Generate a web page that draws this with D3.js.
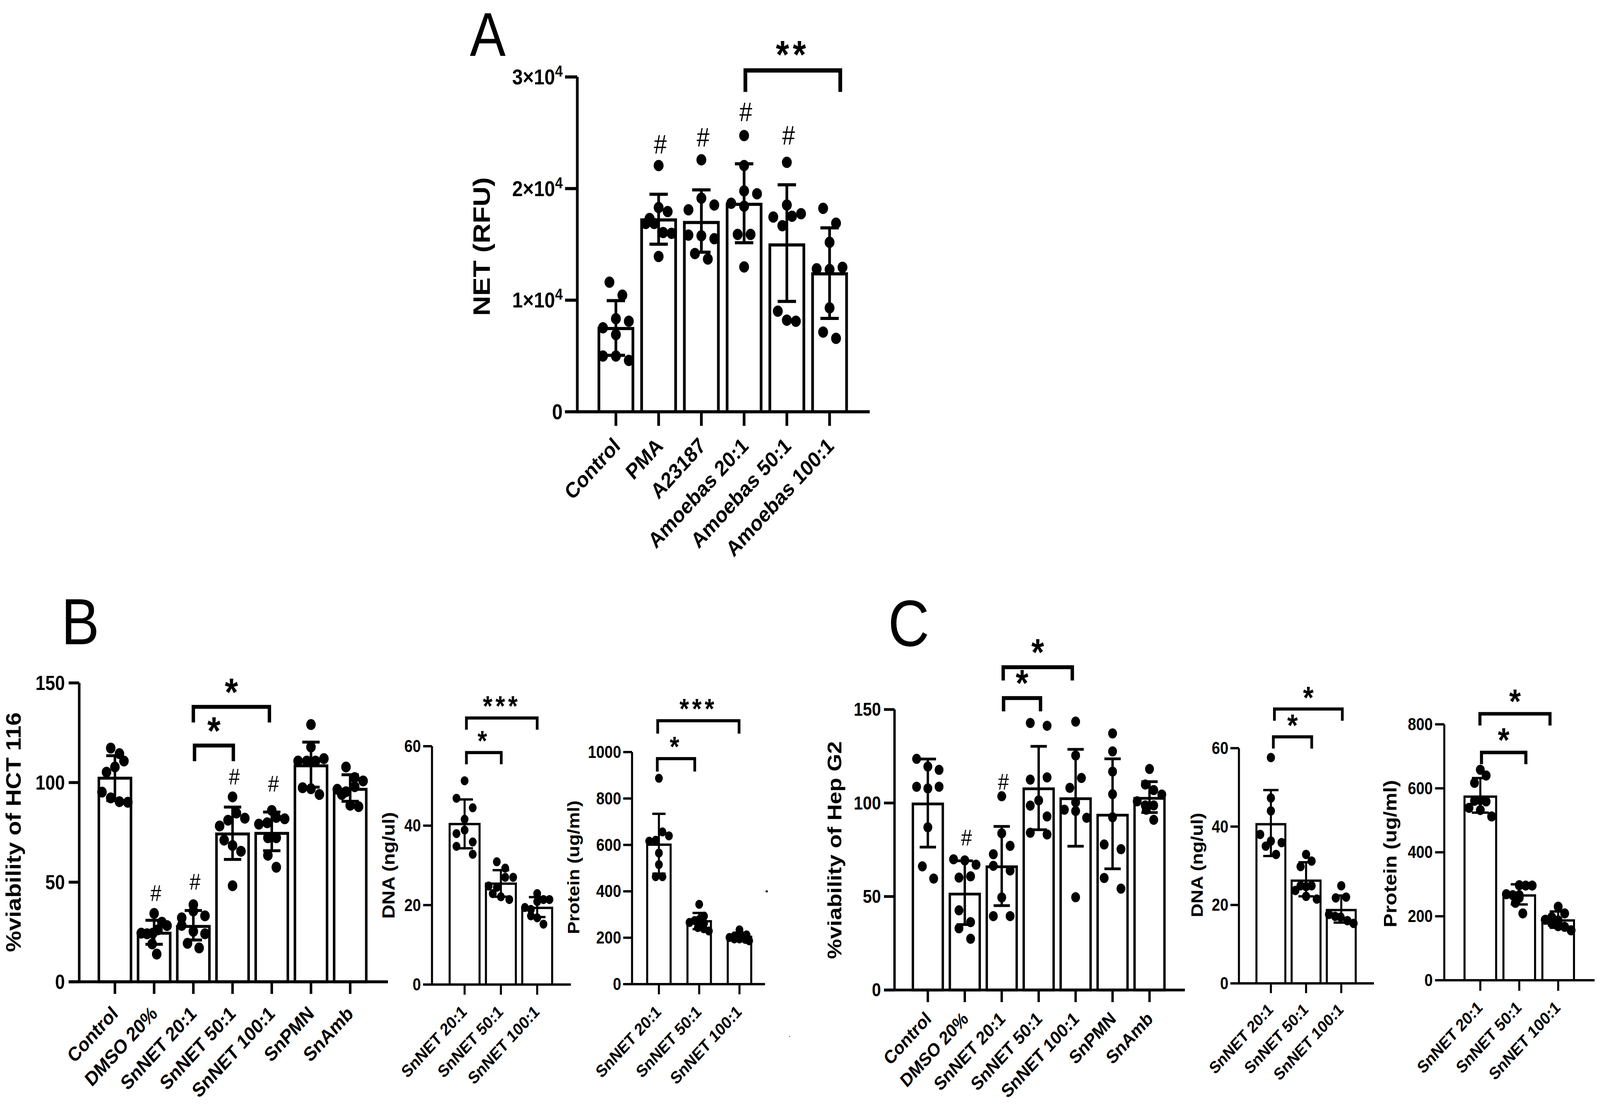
<!DOCTYPE html>
<html>
<head>
<meta charset="utf-8">
<script src="https://cdn.jsdelivr.net/npm/d3@7"></script>
<style>
html, body { margin: 0; padding: 0; background: #fff; overflow: hidden; }
svg { display: block; }
text { font-family: "Liberation Sans", Arial, sans-serif; fill: #000; }
</style>
</head>
<body>
<div id="chart"></div>
<script>
var W = 4706, H = 2836;

//Categories
var aCats = ["Control", "PMA", "A23187", "Amoebas 20:1", "Amoebas 50:1", "Amoebas 100:1"];
var viaCats = ["Control", "DMSO 20%", "SnNET 20:1", "SnNET 50:1", "SnNET 100:1", "SnPMN", "SnAmb"];
var netCats = ["SnNET 20:1", "SnNET 50:1", "SnNET 100:1"];

//Panel A, NET (RFU)
var aMeans = [7460, 17190, 16960, 18590, 14950, 12360];
var aUpper = [9960, 19490, 19880, 22220, 20340, 16480];
var aLower = [5060, 15020, 14300, 15150, 9890, 8370];
var aTicks = [0, 10000, 20000, 30000];
var aPoints = [
[11613, 10445, 8337, 8110, 7526, 6910, 4996, 4996, 4606],
[22059, 18296, 17939, 17323, 16869, 16869, 16058, 15993, 13917],
[22578, 19140, 18523, 18102, 15831, 15766, 15506, 14176, 13690],
[24752, 22059, 19788, 19529, 18685, 18426, 15896, 15896, 12976],
[22351, 18523, 17745, 17453, 17518, 16674, 9018, 8207, 8110],
[18231, 16901, 15182, 12814, 12749, 12944, 9310, 7137, 6585]
];
//swarm column of each dot, same order as the points
var aSwarm = [
[-1, 1, 0, 2, -2, 0, -2, 0, 2],
[0, 0, 1.4, -1.4, -2, -0.7, 0.7, 2, 0],
[0, 0, 2, -2, -2, 0, 2, -1, 1],
[0, 0, 0, 2, -2, 0, -1, 1, 0],
[0, 0, 2.2, -2.1, 0.8, -0.7, -1.4, 0, 1.4],
[-1, 1, 0, -2, 0, 2, 0, -1, 1]
];
var aHash = [null, 23130, 23780, 26050, 23940, null];
var aBrackets = [[3.03, 5.25, 30590, "**"]];

//Panel B, viability of HCT 116
var bMeans = [102.2, 24.4, 27.8, 74.2, 74.5, 108.4, 96.6];
var bUpper = [113.5, 30.9, 35.8, 87.7, 85.2, 120.3, 103.9];
var bLower = [91, 18.8, 21, 61.4, 65.8, 97.7, 90.6];
var bTicks = [0, 50, 100, 150];
var bPoints = [
[117.3, 114.5, 110.8, 105.2, 107.8, 95.2, 92.3, 90.4, 90.1],
[34.3, 29.9, 28.2, 24.4, 24.1, 24.4, 26.1, 19, 13.9],
[38.7, 35.5, 32.1, 33.1, 28.3, 25.3, 24.1, 19.3, 17],
[92.8, 84.7, 81.1, 82.1, 78.2, 71.1, 68.4, 65.5, 48.2],
[86, 82.5, 81.8, 79.1, 79.8, 72.3, 72.3, 63.5, 57.5],
[129.1, 117.8, 112, 110.8, 110.8, 110.8, 97.4, 96.9, 94],
[107.8, 102.5, 100.8, 96.6, 95.4, 97.9, 94, 88.6, 87.9]
];
var bSwarm = [
[-0.65, 0.7, 1.4, -1.3, 0, -2, -0.65, 0.7, 2],
[0, 1.2, 2, -2, -1.1, -0.2, 0.6, -0.3, 0.4],
[0, 0, -1.8, 1.8, -1.8, 0, 1.8, -0.9, 0.9],
[0, 0.6, -0.7, 1.9, -2, -1.3, 0, 1.3, 0],
[0, 0.7, 2, -2, -0.7, -0.6, 0.7, -0.6, 0.7],
[0, 0, 2, -2, -0.65, 0.7, -1.3, 0, 1.3],
[-0.65, 0.7, 2, -2, -0.65, 0.7, -1.3, 0, 1.3]
];
var bHash = [null, 40.6, 46.2, 99.1, 95.4, null, null];
var bBrackets = [[2, 3.94, 138, "*"], [2.03, 3.02, 118.6, "*"]];

//Panel B, DNA
var bdMeans = [40.4, 25.4, 19.3];
var bdUpper = [46.6, 28.8, 22];
var bdLower = [34.3, 22.1, 17];
var bdTicks = [0, 20, 40, 60];
var bdPoints = [
[51.3, 46.9, 44.5, 41.6, 38.9, 38, 35.9, 34.8, 32.8],
[30.9, 29.3, 27, 27, 24.8, 24.5, 22.9, 22.1, 21.4],
[22.9, 20.9, 21.4, 21.4, 19.4, 18.9, 17.3, 16.8, 15.2]
];
var bdSwarm = [
[0, -1.26, 1.26, 0, 0, -1.26, 1.26, -1.26, 1.26],
[-0.63, 0.67, 0.67, 1.9, -1.9, -0.63, -1.26, 0, 1.3],
[0, 0, 0.97, 1.9, -1.9, -0.97, -0.97, 0, 0.97]
];
var bdBrackets = [[0.05, 2, 67.1, "***"], [0.05, 1.01, 58.4, "*"]];

//Panel B, protein
var bpMeans = [601, 271, 204];
var bpUpper = [734, 307, 222];
var bpLower = [476, 237, 189];
var bpTicks = [0, 200, 400, 600, 800, 1000];
var bpPoints = [
[887, 656, 639, 616, 620, 565, 515, 463, 463],
[344, 293, 266, 274, 278, 262, 244, 239, 229],
[234, 207, 213, 212, 201, 195, 195, 193, 187]
];
var bpSwarm = [
[0, 0.55, 1.55, -1.5, -0.5, 0, 0, -0.5, 0.55],
[0, 0.75, -1.5, -0.7, 0, 0.75, -0.2, 0.7, 1.5],
[0, -0.8, 0, 1.1, -1.55, -0.8, 0, 0.9, 1.5]
];
var bpBrackets = [[-0.03, 1.99, 1135, "***"], [-0.04, 0.89, 972, "*"]];

//Panel C, viability of Hep G2
var cMeans = [99.5, 51.3, 65.9, 107.6, 102.3, 93.5, 102.5];
var cUpper = [123.5, 69.1, 87.5, 130.3, 128.7, 123.6, 111.4];
var cLower = [76.4, 35, 45.1, 85.7, 76.9, 64.8, 94.9];
var cTicks = [0, 50, 100, 150];
var cPoints = [
[123.6, 119.5, 117.7, 108.7, 107.8, 108.7, 87, 66.1, 59.6],
[69.9, 69.3, 67, 60.1, 60.8, 42.6, 36.3, 33, 27.4],
[103.6, 83.8, 77.1, 72.6, 66.4, 63.9, 49.5, 39.5, 39.5],
[142.8, 141.3, 112.5, 113.7, 101.4, 98.6, 92.8, 84.1, 83.2],
[143.5, 125.4, 113.4, 108.1, 100.4, 96.4, 95.7, 92.1, 49.6],
[137.2, 127.6, 116.8, 104.7, 92.4, 77.8, 75.3, 59.9, 54.2],
[118.2, 109.9, 106.9, 104.5, 100.9, 98.7, 98.7, 96.4, 91]
];
var cSwarm = [
[-1.74, 0, 1.74, -1.74, 0, 1.74, 0, -0.85, 0.9],
[-1.74, 0, 1.74, -0.9, 0.9, -0.9, 0.9, -0.9, 0.9],
[0, 0, 1.3, -1.3, -1.3, 1.3, 0, -1.3, 1.3],
[-1.3, 1.3, -1.3, 1.3, 0, -1.3, 1.3, -1.3, 1.3],
[0, 0, 0.9, -0.9, 0, -1.74, 0, 1.7, 0],
[0, 0, 0, 0, 0, -1.3, 1.3, -1.3, 1.3],
[0, -0.65, 0.65, 1.9, -1.9, -0.65, 0.65, -0.5, 0.65]
];
var cHash = [null, 77.4, 107.2, null, null, null, null];
var cBrackets = [[2.04, 3.91, 172.6, "*"], [2.05, 3.05, 156.1, "*"]];

//Panel C, DNA
var cdMeans = [40.6, 26.2, 18.7];
var cdUpper = [49.3, 30.9, 22.4];
var cdLower = [32.5, 22.2, 15.5];
var cdTicks = [0, 20, 40, 60];
var cdPoints = [
[57.6, 47.3, 44, 38, 35.9, 36.3, 35, 32.9],
[32.9, 31.2, 29.8, 24.9, 24.9, 23.7, 24.7, 22.2, 21.5],
[24.9, 21.8, 22, 17.6, 17.1, 16.9, 16, 15.3]
];
var cdSwarm = [
[0, 0, 0, -1.66, 1.66, 0, -0.8, 0.8],
[0, 0.85, -0.85, 0.85, -0.85, -1.66, 0, 0, 1.66],
[0, -0.85, 0.75, -1.9, -0.95, -0.1, 0.95, 1.9]
];
var cdBrackets = [[0.1, 2.03, 70, "*"], [0.07, 1.16, 62.9, "*"]];

//Panel C, protein
var cpMeans = [574, 265, 187];
var cpUpper = [632, 300, 215];
var cpLower = [524, 237, 164];
var cpTicks = [0, 200, 400, 600, 800];
var cpPoints = [
[658, 640, 617, 563, 561, 559, 539, 532, 512],
[297, 296, 296, 269, 266, 266, 242, 258, 209],
[230, 209, 197, 189, 187, 178, 169, 167, 156]
];
var cpSwarm = [
[0, 0.9, -0.9, 0, -0.9, 0.9, -1.75, 0, 1.75],
[0, 1, 2, -2, -1, 0, -0.6, 0, 0.55],
[0, 1, -1, -2, 0, -1, 0, 1, 2]
];
var cpBrackets = [[-0.01, 1.79, 833, "*"], [0.03, 1.17, 712, "*"]];

//the browser may hand out a narrower window than asked for, so fill what there is
var svg = d3.select("#chart").append("svg")
	.attr("width", window.innerWidth)
	.attr("height", window.innerHeight)
	.attr("viewBox", "0 0 " + W + " " + H)
	.attr("preserveAspectRatio", "none");

svg.append("rect").attr("width", W).attr("height", H).attr("fill", "#fff");

//draws one bar plot, the layout numbers are pixels in the page
function drawPanel(cfg) {
	var n = cfg.cats.length;
	var y = d3.scaleLinear().domain([0, cfg.ticks[cfg.ticks.length - 1]]).range([cfg.y0, cfg.yTop]);
	var step = (cfg.x2 - cfg.x1) / (n - 1);
	var x = d3.scaleBand().domain(cfg.cats).range([cfg.x1 - step / 2, cfg.x2 + step / 2]);
	var xIndex = d3.scaleLinear().domain([0, n - 1]).range([cfg.x1, cfg.x2]);
	var cx = function(c) { return x(c) + x.bandwidth() / 2; };
	var g = svg.append("g");
	var sw = cfg.stroke;

	//Bars
	g.selectAll("rect.bar")
		.data(cfg.cats)
		.enter()
		.append("rect")
		.attr("class", "bar")
		.attr("x", function(d) { return cx(d) - (cfg.barW - sw) / 2; })
		.attr("width", cfg.barW - sw)
		.attr("y", function(d, i) { return y(cfg.means[i]); })
		.attr("height", function(d, i) { return cfg.y0 - y(cfg.means[i]); })
		.attr("fill", "#fff")
		.attr("stroke", "#000")
		.attr("stroke-width", sw);

	//Dots
	cfg.cats.forEach(function(c, i) {
		g.selectAll("circle.g" + i)
			.data(cfg.points[i])
			.enter()
			.append("circle")
			.attr("class", "g" + i)
			.attr("cx", function(d, j) { return cx(c) + cfg.swarm[i][j] * 19; })
			.attr("cy", function(d) { return y(d); })
			.attr("r", cfg.r)
			.attr("fill", "#000");
	});

	//Error bars
	var err = g.append("g").attr("stroke", "#000").attr("stroke-width", sw);
	cfg.cats.forEach(function(c, i) {
		var px = cx(c);
		err.append("line").attr("x1", px).attr("x2", px).attr("y1", y(cfg.upper[i])).attr("y2", y(cfg.lower[i]));
		[cfg.upper[i], cfg.lower[i]].forEach(function(v) {
			err.append("line")
				.attr("x1", px - cfg.capW / 2).attr("x2", px + cfg.capW / 2)
				.attr("y1", y(v)).attr("y2", y(v));
		});
	});

	//Y axis
	var yAxis = d3.axisLeft(y).tickValues(cfg.ticks).tickSize(cfg.tickLen).tickSizeOuter(0).offset(0);
	if (cfg.sci) yAxis.tickFormat(function() { return ""; });
	else yAxis.tickFormat(d3.format("d"));
	var yg = g.append("g").attr("transform", "translate(" + cfg.axisX + ",0)").call(yAxis);
	yg.selectAll("path,line").attr("stroke", "#000").attr("stroke-width", sw);
	yg.selectAll("text")
		.attr("x", cfg.labelRight - cfg.axisX)
		.attr("font-size", cfg.tickFont)
		.attr("font-weight", "bold")
		.attr("font-family", null)
		.attr("dy", "0.34em");
	if (cfg.sci) {
		yg.selectAll("text").each(function(d) {
			var t = d3.select(this);
			if (d === 0) { t.text("0"); return; }
			t.append("tspan").text((d / 10000) + "×10");
			t.append("tspan").attr("dy", -20).attr("font-size", cfg.tickFont * 0.72).text("4");
		});
	}

	//X axis
	var xAxis = d3.axisBottom(x).tickSize(cfg.tickLen).tickSizeOuter(0).offset(0);
	var xg = g.append("g").attr("transform", "translate(0," + cfg.y0 + ")").call(xAxis);
	xg.select("path").remove();
	xg.selectAll("line").attr("stroke", "#000").attr("stroke-width", sw);
	xg.selectAll("text")
		.attr("font-size", cfg.catFont)
		.attr("font-weight", "bold")
		.attr("font-family", null)
		.attr("text-anchor", "end")
		.attr("x", 0).attr("y", 0).attr("dy", 0)
		.attr("transform", "translate(" + cfg.catDx + "," + cfg.catDy + ") rotate(-43.5)");
	g.append("line")
		.attr("x1", cfg.axisX - cfg.tickLen).attr("x2", cfg.xEnd)
		.attr("y1", cfg.y0).attr("y2", cfg.y0)
		.attr("stroke", "#000").attr("stroke-width", sw);

	//Axis title
	g.append("text")
		.attr("transform", "translate(" + cfg.titleX + "," + cfg.titleY + ") rotate(-90)")
		.attr("text-anchor", "middle")
		.attr("font-size", cfg.titleFont)
		.attr("font-weight", "bold")
		.text(cfg.title);

	//Hash marks
	if (cfg.hash) {
		cfg.cats.forEach(function(c, i) {
			if (cfg.hash[i] === null) return;
			g.append("text")
				.attr("x", cx(c) + 5)
				.attr("y", y(cfg.hash[i]))
				.attr("text-anchor", "middle")
				.attr("font-size", cfg.hashFont)
				.text("#");
		});
	}

	//Significance brackets
	cfg.brackets.forEach(function(b) {
		var xa = xIndex(b[0]), xb = xIndex(b[1]), yb = y(b[2]);
		var p = d3.path();
		p.moveTo(xa, yb + cfg.drop);
		p.lineTo(xa, yb);
		p.lineTo(xb, yb);
		p.lineTo(xb, yb + cfg.drop);
		g.append("path")
			.attr("d", p.toString())
			.attr("fill", "none")
			.attr("stroke", "#000")
			.attr("stroke-width", cfg.brStroke);
		g.append("text")
			.attr("x", (xa + xb) / 2)
			.attr("y", yb - cfg.starGap + cfg.starFont * 0.45)
			.attr("text-anchor", "middle")
			.attr("font-size", cfg.starFont)
			.attr("font-weight", "bold")
			.attr("letter-spacing", cfg.starSpace)
			.text(b[3]);
	});
}

drawPanel({cats: aCats, means: aMeans, upper: aUpper, lower: aLower, points: aPoints, swarm: aSwarm, ticks: aTicks,
	hash: aHash, brackets: aBrackets, sci: true, title: "NET (RFU)",
	axisX: 1698, x1: 1811.5, x2: 2440, y0: 1054, yTop: 197, xEnd: 2558, barW: 108, capW: 54, r: 14.5, stroke: 8, tickLen: 36,
	labelRight: 1655, tickFont: 56, catFont: 56, catDx: 16, catDy: 91, titleX: 1441, titleY: 631, titleFont: 71,
	hashFont: 68, drop: 55, brStroke: 11, starGap: 51, starFont: 100, starSpace: 11});

drawPanel({cats: viaCats, means: bMeans, upper: bUpper, lower: bLower, points: bPoints, swarm: bSwarm, ticks: bTicks,
	hash: bHash, brackets: bBrackets, title: "%viability of HCT 116",
	axisX: 233, x1: 338, x2: 1030, y0: 2513, yTop: 1748, xEnd: 1141, barW: 102, capW: 51, r: 14, stroke: 7.5, tickLen: 31,
	labelRight: 191, tickFont: 52, catFont: 51, catDx: 12, catDy: 85, titleX: 61, titleY: 2130, titleFont: 61,
	hashFont: 58, drop: 40, brStroke: 10, starGap: 48, starFont: 100, starSpace: 0});

drawPanel({cats: netCats, means: bdMeans, upper: bdUpper, lower: bdLower, points: bdPoints, swarm: bdSwarm, ticks: bdTicks,
	brackets: bdBrackets, title: "DNA (ng/ul)",
	axisX: 1270.6, x1: 1366.5, x2: 1580, y0: 2520, yTop: 1910, xEnd: 1679, barW: 94, capW: 49, r: 11.5, stroke: 6, tickLen: 26,
	labelRight: 1238, tickFont: 44, catFont: 44, catDx: 9, catDy: 73, titleX: 1160, titleY: 2215, titleFont: 50,
	drop: 30, brStroke: 8, starGap: 38, starFont: 72, starSpace: 9});

drawPanel({cats: netCats, means: bpMeans, upper: bpUpper, lower: bpLower, points: bpPoints, swarm: bpSwarm, ticks: bpTicks,
	brackets: bpBrackets, title: "Protein (ug/ml)",
	axisX: 1859, x1: 1938, x2: 2175, y0: 2519, yTop: 1925, xEnd: 2250, barW: 75, capW: 39, r: 11.5, stroke: 6, tickLen: 26,
	labelRight: 1827, tickFont: 44, catFont: 44, catDx: 9, catDy: 74, titleX: 1704, titleY: 2220, titleFont: 48.5,
	drop: 33, brStroke: 8, starGap: 38, starFont: 72, starSpace: 9});

drawPanel({cats: viaCats, means: cMeans, upper: cUpper, lower: cLower, points: cPoints, swarm: cSwarm, ticks: cTicks,
	hash: cHash, brackets: cBrackets, title: "%viability of Hep G2",
	axisX: 2631, x1: 2729, x2: 3381, y0: 2534, yTop: 1816, xEnd: 3485, barW: 95, capW: 48, r: 13, stroke: 7, tickLen: 31,
	labelRight: 2591, tickFont: 48, catFont: 48, catDx: 13, catDy: 77, titleX: 2475, titleY: 2176, titleFont: 58,
	hashFont: 58, drop: 34, brStroke: 10, starGap: 48, starFont: 96, starSpace: 0});

drawPanel({cats: netCats, means: cdMeans, upper: cdUpper, lower: cdLower, points: cdPoints, swarm: cdSwarm, ticks: cdTicks,
	brackets: cdBrackets, title: "DNA (ng/ul)",
	axisX: 3644, x1: 3738, x2: 3945, y0: 2517, yTop: 1915, xEnd: 4041, barW: 91, capW: 45, r: 12, stroke: 6, tickLen: 25,
	labelRight: 3613, tickFont: 44, catFont: 43, catDx: 9, catDy: 70, titleX: 3537, titleY: 2214, titleFont: 49,
	drop: 30, brStroke: 8, starGap: 38, starFont: 80, starSpace: 0});

drawPanel({cats: netCats, means: cpMeans, upper: cpUpper, lower: cpLower, points: cpPoints, swarm: cpSwarm, ticks: cpTicks,
	brackets: cpBrackets, title: "Protein (ug/ml)",
	axisX: 4248, x1: 4354, x2: 4583, y0: 2509, yTop: 1854, xEnd: 4690, barW: 99, capW: 50, r: 13, stroke: 6, tickLen: 27,
	labelRight: 4214, tickFont: 44, catFont: 44, catDx: 9, catDy: 73, titleX: 4107, titleY: 2185, titleFont: 53.5,
	drop: 30, brStroke: 9, starGap: 42, starFont: 88, starSpace: 0});

//Panel letters
var letters = ["A", "B", "C"];
var letterX = [1382, 180, 2612];
var letterY = [143, 1649, 1653];
var letterSize = [158, 168, 168];
svg.selectAll("text.letter")
	.data(letters)
	.enter()
	.append("text")
	.attr("class", "letter")
	.attr("x", function(d, i) { return letterX[i]; })
	.attr("y", function(d, i) { return letterY[i]; })
	.attr("font-size", function(d, i) { return letterSize[i]; })
	.text(function(d) { return d; });

//specks left over in the figure
svg.append("rect").attr("x", 2252).attr("y", 2279).attr("width", 6).attr("height", 5).attr("fill", "#000");
svg.append("rect").attr("x", 2321).attr("y", 2652).attr("width", 3).attr("height", 2).attr("fill", "#444");
</script>
</body>
</html>
